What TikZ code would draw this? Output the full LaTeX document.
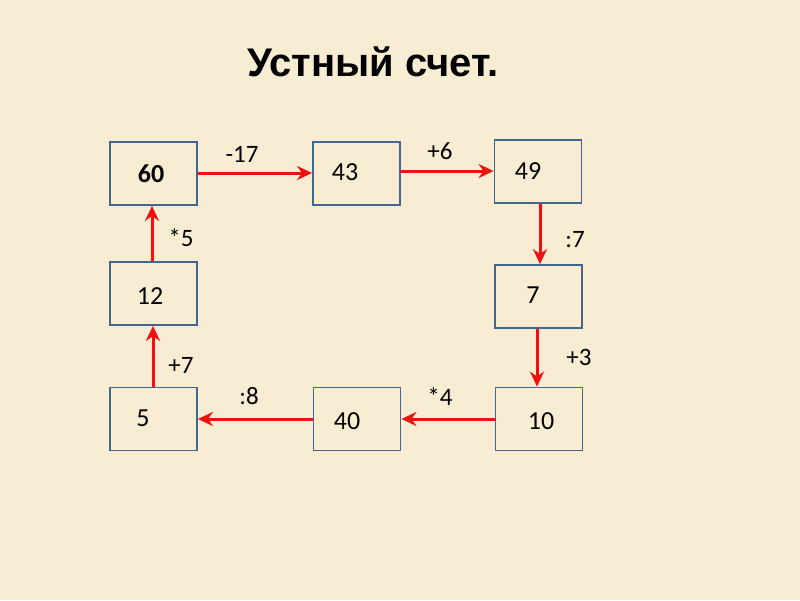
\documentclass[tikz,border=0pt]{standalone}
\usepackage{fontspec}
\setmainfont{Carlito}
\newfontfamily\titlefont{Liberation Sans}
\usetikzlibrary{arrows.meta}
\definecolor{bg}{HTML}{F8EDD2}
\definecolor{boxline}{HTML}{41668F}
\definecolor{arr}{HTML}{F01010}
\begin{document}
\begin{tikzpicture}[x=1pt,y=-1pt,
  numbox/.style={draw=boxline,line width=1.8pt,minimum width=87pt,minimum height=63pt,inner sep=0pt},
  numtext/.style={font=\fontsize{26}{30}\selectfont,anchor=center,inner sep=0pt},
  oplabel/.style={font=\fontsize{25}{29}\selectfont,anchor=center,inner sep=0pt},
  conn/.style={draw=arr,line width=3pt,-{Stealth[length=15pt,width=14pt]}}]
\fill[bg] (0,0) rectangle (800,600);
\useasboundingbox (0,0) rectangle (800,600);
\node[font=\titlefont\bfseries\fontsize{40}{46}\selectfont] (title) at (373,62) {Устный счет.};
% boxes
\node[numbox] (b60) at (153.5,173.5) {};
\node[numbox] (b43) at (356.5,173.5) {};
\node[numbox] (b49) at (538,171.5) {};
\node[numbox] (b7)  at (538.5,296.5) {};
\node[numbox] (b10) at (539,419) {};
\node[numbox] (b40) at (357,419) {};
\node[numbox] (b5)  at (153.5,419) {};
\node[numbox] (b12) at (153.5,293.5) {};
% box texts
\node[numtext,font=\bfseries\fontsize{26}{30}\selectfont] (t60) at (151,174) {60};
\node[numtext] (t43) at (345,172) {43};
\node[numtext] (t49) at (528,171) {49};
\node[numtext] (t7)  at (533,295) {7};
\node[numtext] (t10) at (541,421) {10};
\node[numtext] (t40) at (347,421) {40};
\node[numtext] (t5)  at (143,418) {5};
\node[numtext] (t12) at (150,296) {12};
% connectors
\draw[conn] (b60.east |- 0,173) -- (b43.west |- 0,173);
\draw[conn] (b43.east |- 0,171) -- (b49.west |- 0,171);
\draw[conn] (b49.south -| 540,0) -- (b7.north -| 540,0);
\draw[conn] (b7.south -| 537,0) -- (b10.north -| 537,0);
\draw[conn] (b10.west |- 0,419) -- (b40.east |- 0,419);
\draw[conn] (b40.west |- 0,419) -- (b5.east |- 0,419);
\draw[conn] (b5.north -| 153,0) -- (b12.south -| 153,0);
\draw[conn] (b12.north -| 152,0) -- (b60.south -| 152,0);
% labels
\node[oplabel] (l1) at (242,154) {-17};
\node[oplabel] (l2) at (440,151) {+6};
\node[oplabel] (l3) at (575,240) {:7};
\node[oplabel] (l4) at (579,357) {+3};
\node[oplabel] (l5) at (440,397) {*4};
\node[oplabel] (l6) at (249,396) {:8};
\node[oplabel] (l7) at (181,365) {+7};
\node[oplabel] (l8) at (181,238) {*5};
\end{tikzpicture}
\end{document}
